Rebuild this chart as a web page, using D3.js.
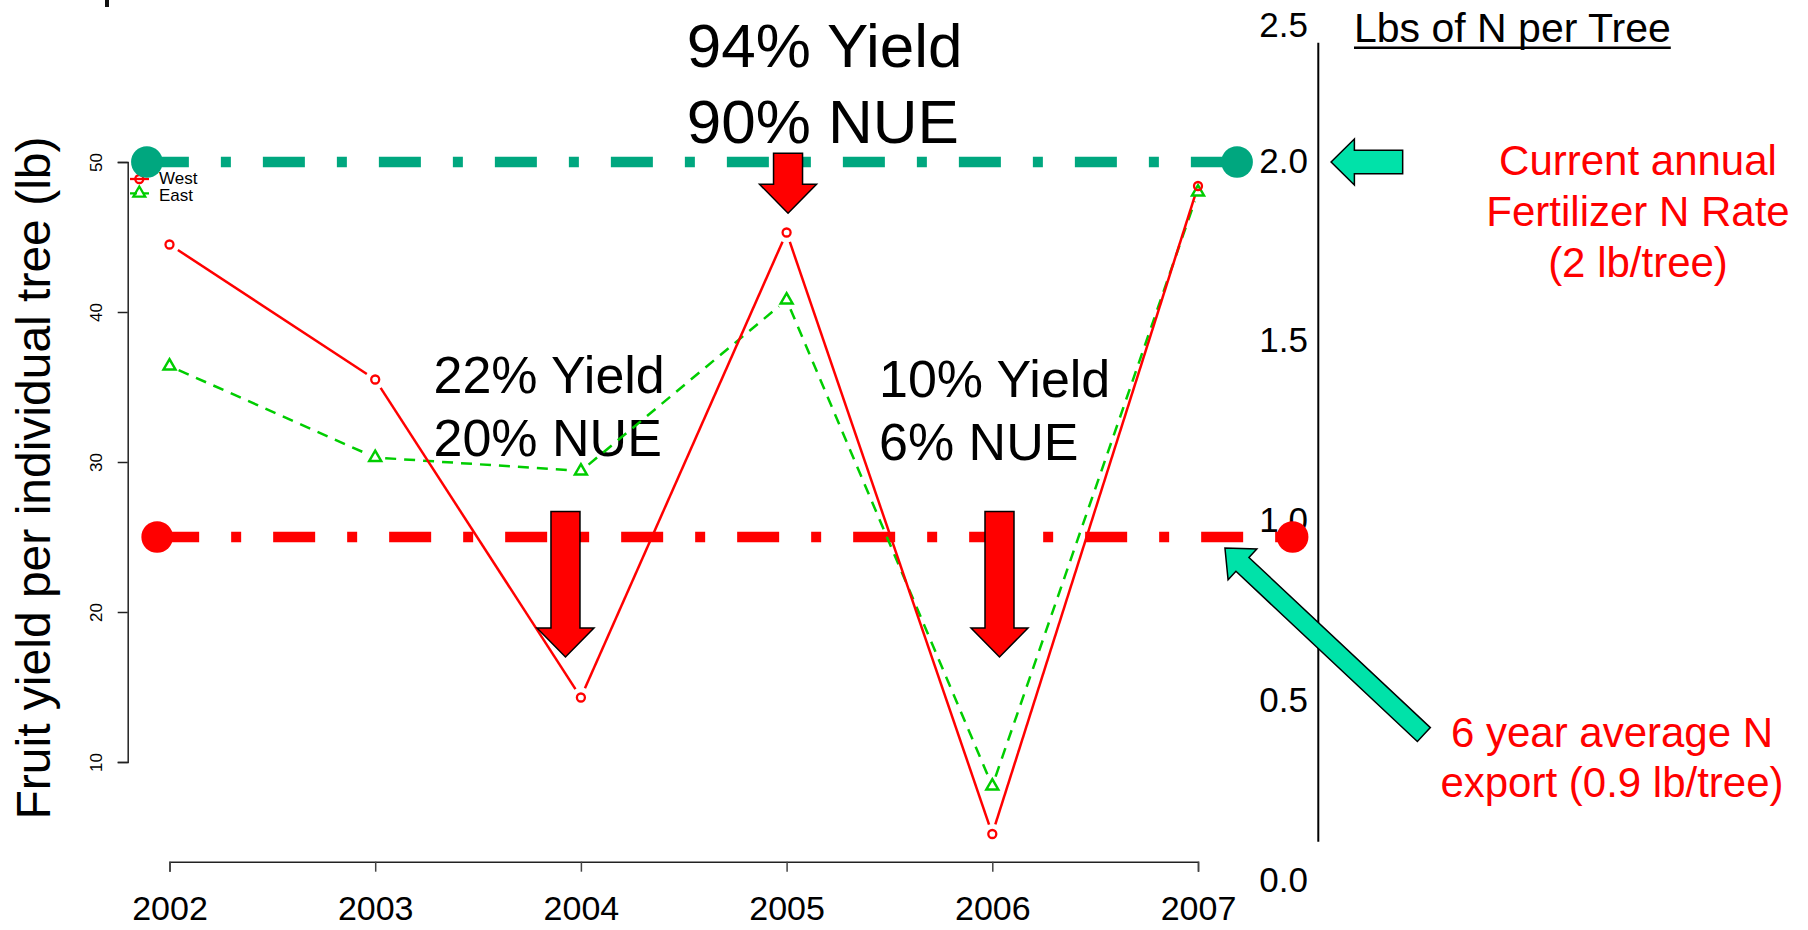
<!DOCTYPE html>
<html>
<head>
<meta charset="utf-8">
<script src="https://cdn.jsdelivr.net/npm/d3@7"></script>
<style>
  html, body { margin: 0; padding: 0; background: #fff; }
  svg { display: block; font-family: "Liberation Sans", Arial, sans-serif; }
</style>
</head>
<body>
<svg id="chart" width="1808" height="930"></svg>
<script>
// yield per tree, two orchard blocks
const years = [2002, 2003, 2004, 2005, 2006, 2007];
const west = [44.5, 35.5, 14.3, 45.3, 5.2, 48.4];
const east = [36.4, 30.3, 29.4, 40.8, 8.4, 48.0];
const leftTicks = [10, 20, 30, 40, 50];
const rightTicks = [0, 0.5, 1, 1.5, 2];
const rightTopLabel = "2.5";

// reference levels (fertilizer rate, N export), drawn in yield units
const refLevels = [50, 25];
const refStart = [2001.89, 2001.94];
const refEnd = [2007.19, 2007.46];
const refNames = ["fert", "export"];

// down arrows over the years with yield / NUE notes
const dropYears = [2003.925, 2005.007, 2006.035];
const dropTop = [26.7, 50.58, 26.7];
const dropTip = [17.0, 46.58, 17.0];

const width = 1808;
const height = 930;

const x = d3.scaleLinear().domain([2002, 2007]).range([169.5, 1198]);
const y = d3.scaleLinear().domain([10, 50]).range([762, 162]);
const yRight = d3.scaleLinear().domain([0, 2]).range([879, 160]);

const red = "#ff0000";
const green = "#00cd00";
const teal = "#00a77f";
const aqua = "#00e2a9";

const svg = d3.select("#chart");

// bit of a cut off title letter at the very top
svg.append("rect").attr("x", 105).attr("y", 0).attr("width", 4).attr("height", 7).attr("fill", "#111");

// left axis
const leftAxis = svg.append("g")
    .attr("transform", `translate(${127.7},0)`)
    .call(d3.axisLeft(y).tickValues(leftTicks).tickSize(10).tickFormat(d3.format("d")));
leftAxis.select(".domain").attr("stroke", "#222").attr("stroke-width", 1.5);
leftAxis.selectAll(".tick line").attr("stroke", "#222").attr("stroke-width", 1.5);
leftAxis.selectAll(".tick text")
    .attr("font-size", 17)
    .attr("fill", "#000")
    .attr("text-anchor", "middle")
    .attr("x", 0).attr("dy", 0)
    .attr("transform", "translate(-25.7,0) rotate(-90)");

svg.append("text")
    .attr("transform", "translate(50,478) rotate(-90)")
    .attr("text-anchor", "middle")
    .attr("font-size", 48)
    .text("Fruit yield per individual tree (lb)");

// bottom axis
const bottomAxis = svg.append("g")
    .attr("transform", `translate(0,${861.7})`)
    .call(d3.axisBottom(x).tickValues(years).tickSize(10).tickFormat(d3.format("d")));
bottomAxis.select(".domain").attr("stroke", "#222").attr("stroke-width", 1.5);
bottomAxis.selectAll(".tick line").attr("stroke", "#444").attr("stroke-width", 1.5);
bottomAxis.selectAll(".tick text")
    .attr("font-size", 34)
    .attr("fill", "#000")
    .attr("y", 58).attr("dy", 0);

// right axis, drawn by hand (labels sit left of the line)
svg.append("line")
    .attr("x1", 1318.3).attr("x2", 1318.3)
    .attr("y1", 42.7).attr("y2", 841.7)
    .attr("stroke", "#000").attr("stroke-width", 2);

svg.append("g").selectAll("text")
    .data(rightTicks)
    .join("text")
    .attr("x", 1308)
    .attr("y", d => yRight(d))
    .attr("dy", "0.36em")
    .attr("text-anchor", "end")
    .attr("font-size", 35)
    .text(d => d3.format(".1f")(d));

svg.append("text")
    .attr("x", 1308).attr("y", 24.5).attr("dy", "0.36em")
    .attr("text-anchor", "end").attr("font-size", 35)
    .text(rightTopLabel);

const lbs = svg.append("text")
    .attr("x", 1354).attr("y", 41.7)
    .attr("font-size", 41)
    .text("Lbs of N per Tree");
const lbsW = lbs.node().getComputedTextLength();
svg.append("line")
    .attr("x1", 1354).attr("x2", 1354 + lbsW)
    .attr("y1", 47.7).attr("y2", 47.7)
    .attr("stroke", "#000").attr("stroke-width", 2.5);

// notes
function note(lines, px, py, size, lead, anchor, color) {
    const t = svg.append("text")
        .attr("font-size", size)
        .attr("text-anchor", anchor)
        .attr("fill", color);
    t.selectAll("tspan").data(lines).join("tspan")
        .attr("x", px)
        .attr("y", (d, i) => py + i * lead)
        .text(d => d);
}
note(["94% Yield", "90% NUE"], 686.7, 66.7, 62, 76.7, "start", "#000");
note(["22% Yield", "20% NUE"], 433.5, 393.3, 52, 63, "start", "#000");
note(["10% Yield", "6% NUE"], 879, 396.7, 52, 63, "start", "#000");
note(["Current annual", "Fertilizer N Rate", "(2 lb/tree)"], 1638, 175, 42, 51, "middle", red);
note(["6 year average N", "export (0.9 lb/tree)"], 1612, 746.7, 42, 50.5, "middle", red);

// reference dash-dot lines with big end dots
const refColor = d3.scaleOrdinal().domain(refNames).range([teal, red]);
const refs = refLevels.map((v, i) => ({ v, a: refStart[i], b: refEnd[i], name: refNames[i] }));

svg.append("g").selectAll("line")
    .data(refs)
    .join("line")
    .attr("x1", d => x(d.a)).attr("x2", d => x(d.b))
    .attr("y1", d => y(d.v)).attr("y2", d => y(d.v))
    .attr("stroke", d => refColor(d.name))
    .attr("stroke-width", 10.5)
    .attr("stroke-dasharray", "42,32,10,32");

// data lines, R type="b" style: segments stop short of the points
function trimmed(vals, gap) {
    const pts = years.map((yr, i) => [x(yr), y(vals[i])]);
    return d3.pairs(pts).map(([p, q]) => {
        const dx = q[0] - p[0], dy = q[1] - p[1];
        const len = Math.hypot(dx, dy);
        const ux = dx / len, uy = dy / len;
        return [p[0] + ux * gap, p[1] + uy * gap, q[0] - ux * gap, q[1] - uy * gap];
    });
}

svg.append("g").selectAll("line")
    .data(trimmed(east, 10))
    .join("line")
    .attr("x1", d => d[0]).attr("y1", d => d[1])
    .attr("x2", d => d[2]).attr("y2", d => d[3])
    .attr("stroke", green).attr("stroke-width", 2.5)
    .attr("stroke-dasharray", "11,8");

svg.append("g").selectAll("line")
    .data(trimmed(west, 10))
    .join("line")
    .attr("x1", d => d[0]).attr("y1", d => d[1])
    .attr("x2", d => d[2]).attr("y2", d => d[3])
    .attr("stroke", red).attr("stroke-width", 2.5);

const tri = s => `M0,${-s * 0.62}L${s * 0.54},${s * 0.31}L${-s * 0.54},${s * 0.31}Z`;

svg.append("g").selectAll("path")
    .data(east)
    .join("path")
    .attr("transform", (d, i) => `translate(${x(years[i])},${y(d)})`)
    .attr("d", tri(11))
    .attr("fill", "none").attr("stroke", green).attr("stroke-width", 2.5);

svg.append("g").selectAll("circle")
    .data(west)
    .join("circle")
    .attr("cx", (d, i) => x(years[i]))
    .attr("cy", d => y(d))
    .attr("r", 4)
    .attr("fill", "none").attr("stroke", red).attr("stroke-width", 2.3);

// legend
const legend = svg.append("g");
legend.append("line").attr("x1", 130).attr("x2", 149).attr("y1", 179).attr("y2", 179)
    .attr("stroke", red).attr("stroke-width", 2.3);
legend.append("circle").attr("cx", 139.3).attr("cy", 179).attr("r", 4)
    .attr("fill", "none").attr("stroke", red).attr("stroke-width", 2.3);
legend.append("line").attr("x1", 130).attr("x2", 149).attr("y1", 193.3).attr("y2", 193.3)
    .attr("stroke", green).attr("stroke-width", 2.3).attr("stroke-dasharray", "7,6");
legend.append("path").attr("transform", "translate(139.3,193.3)").attr("d", tri(11))
    .attr("fill", "none").attr("stroke", green).attr("stroke-width", 2.3);
legend.append("text").attr("x", 159).attr("y", 184).attr("font-size", 17).text("West");
legend.append("text").attr("x", 159).attr("y", 200.7).attr("font-size", 17).text("East");

// big end dots on top of the reference lines
svg.append("g").selectAll("circle")
    .data(refs.flatMap(d => [{ t: d.a, d }, { t: d.b, d }]))
    .join("circle")
    .attr("cx", e => x(e.t))
    .attr("cy", e => y(e.d.v))
    .attr("r", 15.8)
    .attr("fill", e => refColor(e.d.name));

// block arrows
function arrowPath(tail, tip, shaft, head, headLen) {
    const dx = tip[0] - tail[0], dy = tip[1] - tail[1];
    const len = Math.hypot(dx, dy);
    const ux = dx / len, uy = dy / len;
    const nx = -uy, ny = ux;
    const bx = tip[0] - ux * headLen, by = tip[1] - uy * headLen;
    const p = d3.path();
    p.moveTo(tail[0] + nx * shaft / 2, tail[1] + ny * shaft / 2);
    p.lineTo(bx + nx * shaft / 2, by + ny * shaft / 2);
    p.lineTo(bx + nx * head / 2, by + ny * head / 2);
    p.lineTo(tip[0], tip[1]);
    p.lineTo(bx - nx * head / 2, by - ny * head / 2);
    p.lineTo(bx - nx * shaft / 2, by - ny * shaft / 2);
    p.lineTo(tail[0] - nx * shaft / 2, tail[1] - ny * shaft / 2);
    p.closePath();
    return p.toString();
}

svg.append("g").selectAll("path")
    .data(dropYears)
    .join("path")
    .attr("d", (d, i) => arrowPath([x(d), y(dropTop[i])], [x(d), y(dropTip[i])], 29, 57, 29))
    .attr("fill", red).attr("stroke", "#000").attr("stroke-width", 1.5)
    .attr("stroke-linejoin", "miter");

// aqua pointers at the N levels
svg.append("path")
    .attr("d", arrowPath([x(2007.995), y(50)], [x(2007.647), y(50)], 23.3, 46, 23.3))
    .attr("fill", aqua).attr("stroke", "#000").attr("stroke-width", 1.5);

svg.append("path")
    .attr("d", arrowPath([x(2008.098), y(11.83)], [x(2007.131), y(24.27)], 19, 42, 24))
    .attr("fill", aqua).attr("stroke", "#000").attr("stroke-width", 1.5);
</script>
</body>
</html>
